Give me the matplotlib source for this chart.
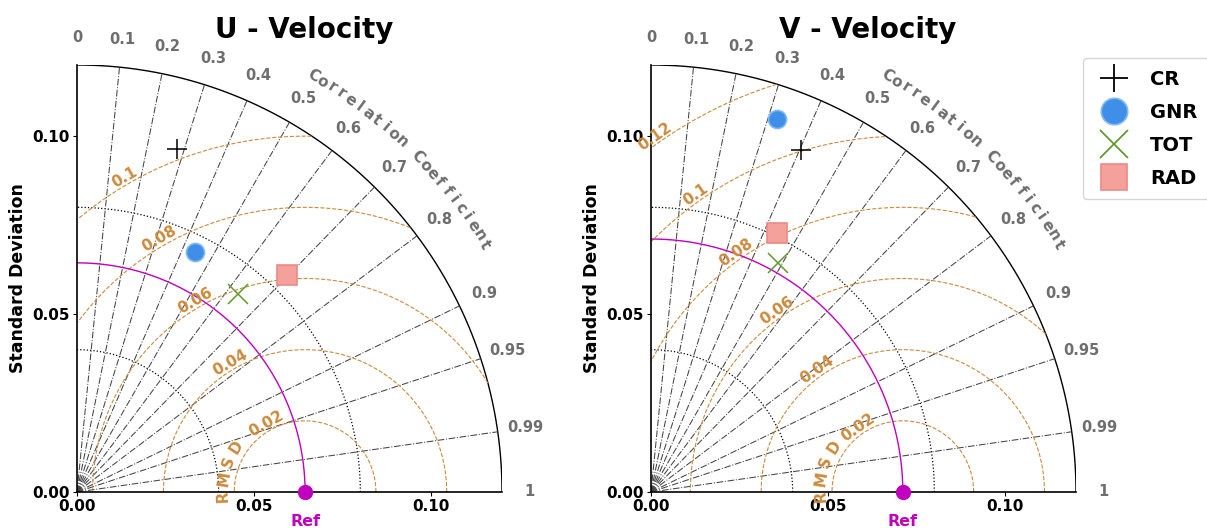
import numpy as np
import matplotlib.pyplot as plt
from matplotlib.lines import Line2D

titles = ['U - Velocity', 'V - Velocity']
models = ['CR', 'GNR', 'TOT', 'RAD']

# reference std and model stats (std, correlation)
ref_std = [0.0644, 0.0711]
u_std = [0.1004, 0.0751, 0.0719, 0.0851]
u_corr = [0.282, 0.443, 0.633, 0.697]
v_std = [0.1050, 0.1106, 0.0736, 0.0809]
v_corr = [0.403, 0.321, 0.487, 0.439]

rms_ticks_u = [0.02, 0.04, 0.06, 0.08, 0.1]
rms_ticks_v = [0.02, 0.04, 0.06, 0.08, 0.1, 0.12]
corr_ticks = [0.1, 0.2, 0.3, 0.4, 0.5, 0.6, 0.7, 0.8, 0.9, 0.95, 0.99]
corr_labels = ['0', '0.1', '0.2', '0.3', '0.4', '0.5', '0.6', '0.7', '0.8',
               '0.9', '0.95', '0.99', '1']
std_circles = [0.04, 0.08]
std_max = 0.12
std_ticks = [0.0, 0.05, 0.10]

markers = ['+', 'o', 'x', 's']
mcolors = ['black', '#3f8fe8', '#5f9a2c', '#f4a19b']
medges = ['black', '#7fb8f5', '#5f9a2c', '#ec8a84']
msizes = [15, 13, 15, 14]

rms_col = '#cd8a3c'
corr_col = '#6e6e6e'


def curved(ax, cx, cy, r, word, a0, a1, **kw):
    angs = np.linspace(a0, a1, len(word))
    for ch, a in zip(word, angs):
        ar = np.deg2rad(a)
        ax.text(cx + r * np.cos(ar), cy + r * np.sin(ar), ch, rotation=a - 90,
                ha='center', va='center', rotation_mode='anchor',
                clip_on=False, **kw)


def taylor(ax, rstd, stds, corrs, rms_ticks, lab_ang, title, title_x):
    t = np.linspace(0, np.pi / 2, 300)
    # outer arc
    ax.plot(std_max * np.cos(t), std_max * np.sin(t), color='k', lw=1.0)
    # std circles
    for s in std_circles:
        ax.plot(s * np.cos(t), s * np.sin(t), color='k', ls=':', lw=0.9)
    # correlation lines
    for c in corr_ticks:
        ax.plot([0, std_max * c], [0, std_max * np.sqrt(1 - c ** 2)],
                color='#444444', ls='-.', lw=0.75)
    # correlation labels
    for c, lab in zip([0.0] + corr_ticks + [1.0], corr_labels):
        a = np.arccos(c)
        ax.text(0.1278 * np.cos(a), 0.1278 * np.sin(a), lab, color=corr_col,
                fontsize=10.5, fontweight='bold', ha='center', va='center')
    curved(ax, 0, 0, 0.1345, 'Correlation Coefficient', 60.3, 31.1,
           color=corr_col, fontsize=11, fontweight='bold')
    # RMSD contours
    tt = np.linspace(0, np.pi, 600)
    for r in rms_ticks:
        x = rstd + r * np.cos(tt)
        y = r * np.sin(tt)
        ok = (x >= 0) & (x ** 2 + y ** 2 <= std_max ** 2)
        x = np.where(ok, x, np.nan)
        y = np.where(ok, y, np.nan)
        ax.plot(x, y, color=rms_col, ls='--', lw=0.8)
        a = np.deg2rad(lab_ang)
        ax.text(rstd + r * np.cos(a), r * np.sin(a), f'{r:g}', color=rms_col,
                fontsize=11, fontweight='bold', rotation=lab_ang - 90,
                ha='center', va='bottom', rotation_mode='anchor', clip_on=False)
    curved(ax, rstd, 0, 0.0232, 'RMSD', 183, 147, color=rms_col,
           fontsize=11, fontweight='bold')
    # reference arc and point
    ax.plot(rstd * np.cos(t), rstd * np.sin(t), color='m', lw=1.0)
    ax.plot([rstd], [0], 'o', color='m', ms=10, clip_on=False, zorder=6)
    ax.text(rstd, -0.068, 'Ref', color='m', fontsize=11.5, fontweight='bold',
            ha='center', va='center',
            transform=ax.get_xaxis_transform())
    # models
    for s, c, mk, fc, ec, ms in zip(stds, corrs, markers, mcolors, medges, msizes):
        x = s * c
        y = s * np.sqrt(1 - c ** 2)
        if mk in ['+', 'x']:
            ax.plot(x, y, mk, color=fc, ms=ms, mew=1.1, zorder=7)
        else:
            ax.plot(x, y, mk, mfc=fc, mec=ec, ms=ms, mew=1.2, zorder=7)

    ax.set_xlim(0, std_max)
    ax.set_ylim(0, std_max)
    for side in ['top', 'right']:
        ax.spines[side].set_visible(False)
    for side in ['left', 'bottom']:
        ax.spines[side].set_linewidth(1.2)
    ax.set_xticks(std_ticks)
    ax.set_yticks(std_ticks)
    ax.set_xticklabels(['0.00', '0.05', '0.10'], fontweight='bold', fontsize=11)
    ax.set_yticklabels(['0.00', '0.05', '0.10'], fontweight='bold', fontsize=11)
    ax.tick_params(length=3, pad=2)
    ax.set_ylabel('Standard Deviation', fontweight='bold', fontsize=12.5,
                  labelpad=4)
    ax.text(title_x, 1.063, title, transform=ax.transAxes, fontsize=20,
            fontweight='bold', ha='center', va='baseline')


fig = plt.figure(figsize=(12.07, 5.31), dpi=100)
ax1 = fig.add_axes([77 / 1207, 39 / 531, 425 / 1207, 427 / 531])
ax2 = fig.add_axes([651 / 1207, 39 / 531, 425 / 1207, 427 / 531])

taylor(ax1, ref_std[0], u_std, u_corr, rms_ticks_u, 120, titles[0], 0.535)
taylor(ax2, ref_std[1], v_std, v_corr, rms_ticks_v, 125, titles[1], 0.51)

handles = []
for mk, fc, ec, name in zip(markers, mcolors, medges, models):
    if mk in ['+', 'x']:
        handles.append(Line2D([], [], ls='none', marker=mk, color=fc, ms=20,
                              mew=1.3, label=name))
    else:
        handles.append(Line2D([], [], ls='none', marker=mk, mfc=fc, mec=ec,
                              ms=19, mew=1.2, label=name))
fig.legend(handles=handles, loc='upper left',
           bbox_to_anchor=(1083 / 1207, 1 - 58 / 531), borderaxespad=0,
           prop={'weight': 'bold', 'size': 14}, labelspacing=0.72,
           handletextpad=0.85, borderpad=0.6, handlelength=2.0)

fig.savefig('out.png', dpi=100)
